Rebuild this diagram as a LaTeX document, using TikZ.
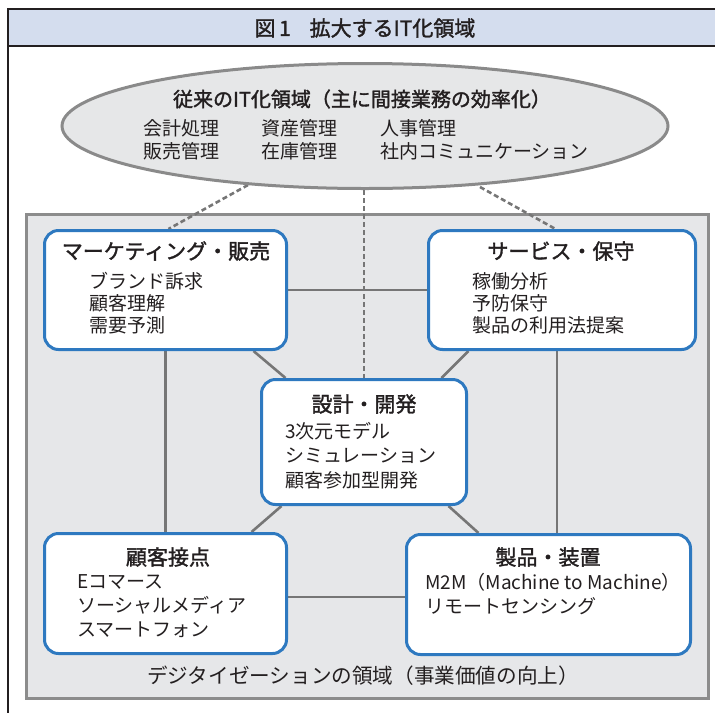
\documentclass[tikz,border=0pt]{standalone}
\usepackage{fontspec}
\newfontfamily\jp{Noto Sans CJK JP}
\newfontfamily\jpb[FakeBold=1.6]{Noto Sans CJK JP}
\usetikzlibrary{calc,shapes.geometric}
\pgfdeclarelayer{back}
\pgfdeclarelayer{mid}
\pgfsetlayers{back,mid,main}
\definecolor{barfill}{HTML}{D4DDEE}
\definecolor{framec}{HTML}{231F20}
\definecolor{txt}{HTML}{231F20}
\definecolor{elfill}{HTML}{E6E7E8}
\definecolor{elline}{HTML}{8A8A8A}
\definecolor{regfill}{HTML}{E6E7E9}
\definecolor{regline}{HTML}{8C8C8C}
\definecolor{boxblue}{HTML}{2E79C0}
\definecolor{conc}{HTML}{767676}
\begin{document}
\begin{tikzpicture}[x=1pt,y=-1pt,
  boxn/.style={draw=boxblue, line width=3pt, fill=white, rounded corners=14pt, inner sep=0pt},
  hd/.style={font=\jpb\fontsize{21}{24}\selectfont, text=txt, inner sep=0pt},
  itm/.style={text=txt, align=left, inner sep=0pt, anchor=west},
  conn/.style={draw=conc, line width=2.6pt},
  dsh/.style={draw=conc, line width=2.6pt, dash pattern=on 5pt off 3pt}]
\useasboundingbox (0,0) rectangle (715,713);
% frame and title bar
\fill[barfill] (8,9) rectangle (715,46);
\draw[framec, line width=1.2pt] (715,9) -- (8,9) -- (8,713);
\draw[framec, line width=1.2pt] (8,46) -- (715,46);
\node[font=\jpb\fontsize{21}{24}\selectfont, text=txt, inner sep=0pt] (title) at (365,28) {図\,1\hspace{0.9em}拡大するIT化領域};
% region
\begin{pgfonlayer}{back}
\node[draw=regline, fill=regfill, line width=3pt, minimum width=682pt, minimum height=484pt, inner sep=0pt] (reg) at (367.5,456.5) {};
\end{pgfonlayer}
% ellipse
\node[ellipse, draw=elline, fill=elfill, line width=3pt, minimum width=606pt, minimum height=125pt, inner sep=0pt] (el) at (365,126) {};
\node[font=\jpb\fontsize{20}{23}\selectfont, text=txt, inner sep=0pt] (elt) at (362,99) {従来のIT化領域（主に間接業務の効率化）};
\node[itm, font=\jp\fontsize{19}{23}\selectfont] (e1) at (143,139.5) {会計処理\\販売管理};
\node[itm, font=\jp\fontsize{19}{23}\selectfont] (e2) at (261,139.5) {資産管理\\在庫管理};
\node[itm, font=\jp\fontsize{19}{23}\selectfont] (e3) at (380,139.5) {人事管理\\社内コミュニケーション};
% boxes
\node[boxn, minimum width=242pt, minimum height=119pt] (mk) at (165.5,290) {};
\node[boxn, minimum width=267pt, minimum height=119pt] (sv) at (562,290) {};
\node[boxn, minimum width=205pt, minimum height=125pt] (dd) at (364,442) {};
\node[boxn, minimum width=242pt, minimum height=120pt] (kk) at (165.5,593.5) {};
\node[boxn, minimum width=284pt, minimum height=120pt] (sp) at (548.5,594.5) {};
% box texts
\node[hd] (mkh) at (166,251) {マーケティング・販売};
\node[itm, font=\jp\fontsize{19}{22}\selectfont] (mki) at (89,303) {ブランド訴求\\顧客理解\\需要予測};
\node[hd] (svh) at (561,251) {サービス・保守};
\node[itm, font=\jp\fontsize{19}{22}\selectfont] (svi) at (472,303) {稼働分析\\予防保守\\製品の利用法提案};
\node[hd] (ddh) at (364,404) {設計・開発};
\node[itm, font=\jp\fontsize{19}{24.5}\selectfont] (ddi) at (285,455.5) {3次元モデル\\シミュレーション\\顧客参加型開発};
\node[hd] (kkh) at (168,557) {顧客接点};
\node[itm, font=\jp\fontsize{19}{24}\selectfont] (kki) at (77,606) {Eコマース\\ソーシャルメディア\\スマートフォン};
\node[hd] (sph) at (548,557) {製品・装置};
\node[itm, font=\jp\fontsize{19}{24}\selectfont] (spi) at (425,594) {M2M（Machine to Machine）\\リモートセンシング};
% bottom label
\node[font=\jp\fontsize{20.6}{24}\selectfont, text=txt, inner sep=0pt] (bl) at (363,676) {デジタイゼーションの領域（事業価値の向上）};
% connectors
\coordinate (vx) at (557,0);
\coordinate (hy) at (0,597);
\begin{pgfonlayer}{mid}
\draw[conn] (mk.south) -- (kk.north);
\draw[conn] (sv.south -| vx) -- (sp.north -| vx);
\draw[conn] (mk.east) -- (sv.west);
\draw[conn] (kk.east |- hy) -- (sp.west |- hy);
\draw[conn] ($(mk.south east)+(-34.5,0)$) -- ($(dd.north west)+(25.5,0)$);
\draw[conn] ($(sv.south west)+(41.5,0)$) -- ($(dd.north east)+(-26.5,0)$);
\draw[conn] ($(dd.south west)+(21.5,0)$) -- ($(kk.north east)+(-36.5,0)$);
\draw[conn] ($(dd.south east)+(-19.5,0)$) -- ($(sp.north west)+(73.5,0)$);
\draw[dsh] ($(el.center)+(-117,59)$) -- ($(mk.north west)+(125.5,0)$);
\draw[dsh] (el.south -| dd.north) -- (dd.north);
\draw[dsh] ($(el.center)+(115,61)$) -- ($(sv.north west)+(128.5,0)$);
\end{pgfonlayer}
\end{tikzpicture}
\end{document}
